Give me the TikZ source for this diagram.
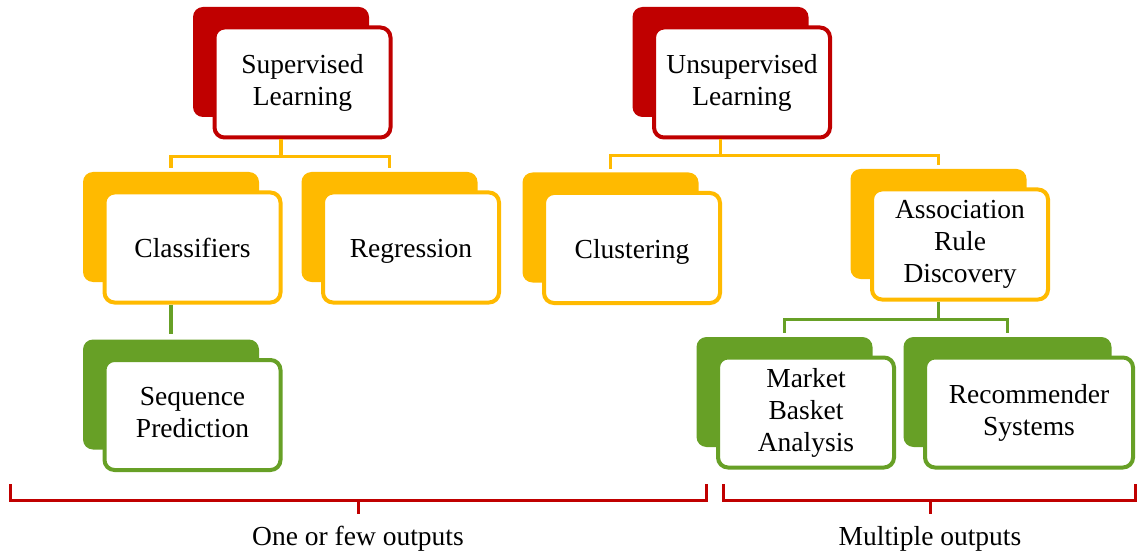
\documentclass[tikz,border=0pt]{standalone}
\usepackage{fontspec}
\setmainfont{Liberation Serif}
\usetikzlibrary{shadows}
\definecolor{mlred}{HTML}{C00000}
\definecolor{mlyellow}{HTML}{FFBA00}
\definecolor{mlgreen}{HTML}{67A026}

\begin{document}
\begin{tikzpicture}[x=1pt, y=-1pt,
  card/.style={draw=#1, fill=white, line width=4pt, rounded corners=10pt,
    minimum width=176pt, minimum height=110pt, align=center, inner sep=2pt,
    font=\fontsize{27.5}{32}\selectfont,
    execute at begin node=\rule{0pt}{26pt},
    execute at end node=\rule[-5.5pt]{0pt}{5.5pt},
    copy shadow={shadow xshift=-21.5pt, shadow yshift=20.5pt, fill=#1, draw=none}},
  link/.style={draw=#1, line width=3.5pt},
  brace/.style={draw=mlred, line width=3pt},
  outlabel/.style={font=\fontsize{27.5}{32}\selectfont}]
\useasboundingbox (0,0) rectangle (1137,553);
%\draw[step=50,gray,very thin] (0,0) grid (1137,553); %background grid

% top level
\node[card=mlred] (sup) at (302.5,82.5) {Supervised\\Learning};
\node[card=mlred] (unsup) at (742,82.5) {Unsupervised\\Learning};

% second level
\node[card=mlyellow] (cls) at (192.5,247.5) {Classifiers};
\node[card=mlyellow] (reg) at (411,247.5) {Regression};
\node[card=mlyellow] (clu) at (632,248) {Clustering};
\node[card=mlyellow] (arl) at (960,244.5) {Association\\Rule\\Discovery};

% third level
\node[card=mlgreen] (seq) at (192.5,415) {Sequence\\Prediction};
\node[card=mlgreen] (mba) at (806,412.5) {Market\\Basket\\Analysis};
\node[card=mlgreen, minimum width=208pt] (rec) at (1029,412.5) {Recommender\\Systems};

% connectors
\draw[link=mlyellow] ([xshift=-21.5pt]sup.south) -- ++(0,17) coordinate (sup-j)
  -| ([xshift=-21.5pt, yshift=22pt]cls.north);
\draw[link=mlyellow] (sup-j) -| ([xshift=-21.5pt, yshift=22pt]reg.north);
\draw[link=mlyellow] ([xshift=-21.5pt]unsup.south) -- ++(0,16) coordinate (unsup-j)
  -| ([xshift=-21.5pt, yshift=22pt]clu.north);
\draw[link=mlyellow] (unsup-j) -| ([xshift=-21.5pt, yshift=22pt]arl.north);
\draw[link=mlgreen] ([xshift=-21.5pt]cls.south) -- ([xshift=-21.5pt, yshift=24pt]seq.north);
\draw[link=mlgreen] ([xshift=-21.5pt]arl.south) -- ++(0,18) coordinate (arl-j)
  -| ([xshift=-21.5pt, yshift=23pt]mba.north);
\draw[link=mlgreen] (arl-j) -| ([xshift=-21.5pt, yshift=23pt]rec.north);

% output groups
\node[outlabel] (few) at (358,539) {One or few outputs};
\node[outlabel] (multi) at (930,539) {Multiple outputs};
\draw[brace] (10,484) -- (10,500) -- (706,500) -- (706,484);
\draw[brace] (358,500) -- (358,514);
\draw[brace] (723,484) -- (723,500) -- (1135,500) -- (1135,484);
\draw[brace] (930,500) -- (930,514);
\end{tikzpicture}
\end{document}
